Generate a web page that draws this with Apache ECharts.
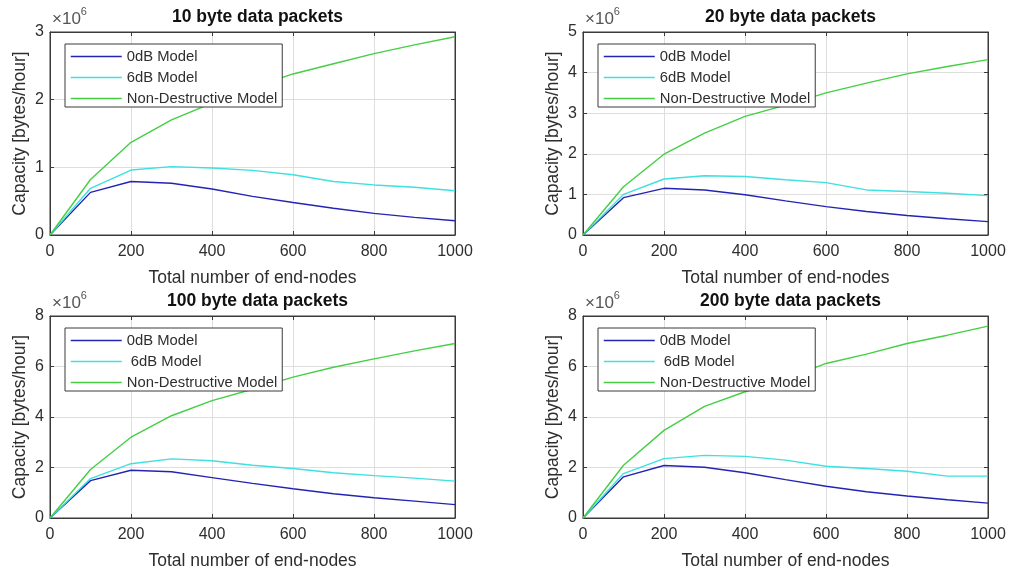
<!DOCTYPE html>
<html>
<head>
<meta charset="utf-8">
<script src="https://cdn.jsdelivr.net/npm/echarts@6/dist/echarts.min.js"></script>
<style>
html,body{margin:0;padding:0;background:#fff;}
#chart{width:1009px;height:571px;}
</style>
</head>
<body>
<div id="chart"></div>
<script>
// ---- data (capacity in units of 10^6 bytes/hour) ----
const nodes = [0, 100, 200, 300, 400, 500, 600, 700, 800, 900, 1000];
const xTicks = [0, 200, 400, 600, 800, 1000];

const titles = ['10 byte data packets', '20 byte data packets', '100 byte data packets', '200 byte data packets'];
const seriesNamesTop = ['0dB Model', '6dB Model', 'Non-Destructive Model'];
const seriesNamesBottom = ['0dB Model', ' 6dB Model', 'Non-Destructive Model'];
const yMax = [3, 5, 8, 8];
const yStep = [1, 1, 2, 2];

const p10_0dB = [0, 0.63, 0.79, 0.765, 0.68, 0.57, 0.48, 0.395, 0.32, 0.26, 0.21];
const p10_6dB = [0, 0.69, 0.96, 1.01, 0.99, 0.955, 0.89, 0.79, 0.74, 0.705, 0.655];
const p10_ND  = [0, 0.82, 1.37, 1.70, 1.95, 2.18, 2.38, 2.53, 2.68, 2.81, 2.93];

const p20_0dB = [0, 0.92, 1.15, 1.11, 0.99, 0.84, 0.70, 0.58, 0.48, 0.40, 0.33];
const p20_6dB = [0, 1.00, 1.38, 1.46, 1.44, 1.36, 1.29, 1.11, 1.07, 1.03, 0.97];
const p20_ND  = [0, 1.19, 1.99, 2.51, 2.92, 3.20, 3.50, 3.74, 3.97, 4.15, 4.32];

const p100_0dB = [0, 1.48, 1.89, 1.83, 1.60, 1.37, 1.16, 0.96, 0.80, 0.67, 0.53];
const p100_6dB = [0, 1.56, 2.15, 2.34, 2.27, 2.09, 1.96, 1.79, 1.68, 1.58, 1.46];
const p100_ND  = [0, 1.92, 3.20, 4.05, 4.65, 5.10, 5.58, 5.97, 6.30, 6.62, 6.91];

const p200_0dB = [0, 1.63, 2.08, 2.01, 1.79, 1.52, 1.26, 1.04, 0.87, 0.72, 0.59];
const p200_6dB = [0, 1.76, 2.35, 2.48, 2.44, 2.29, 2.05, 1.96, 1.85, 1.66, 1.66];
const p200_ND  = [0, 2.09, 3.47, 4.42, 5.00, 5.50, 6.12, 6.49, 6.91, 7.24, 7.60];

const panels = [
  [p10_0dB, p10_6dB, p10_ND],
  [p20_0dB, p20_6dB, p20_ND],
  [p100_0dB, p100_6dB, p100_ND],
  [p200_0dB, p200_6dB, p200_ND]
];

// ---- styling / layout ----
const FONT = '"Liberation Sans", Arial, Helvetica, sans-serif';
const colors = ['#2424b4', '#3ee0e0', '#44cf44'];
const AX = '#3a3a3a';
const TXT = '#2e2e2e';
const gridPos = [
  {left: 50, top: 32, width: 405, height: 203},
  {left: 583, top: 32, width: 405, height: 203},
  {left: 50, top: 316, width: 405, height: 203},
  {left: 583, top: 316, width: 405, height: 203}
];

const grid = [], xAxis = [], yAxis = [], series = [], title = [], legend = [], graphic = [];

gridPos.forEach((g, i) => {
  grid.push(Object.assign({show: true, borderColor: AX, borderWidth: 1, backgroundColor: '#fff'}, g));
  xAxis.push({
    type: 'value', gridIndex: i, min: 0, max: 1000, interval: 200, position: 'bottom',
    name: 'Total number of end-nodes', nameLocation: 'middle', nameGap: 34,
    nameTextStyle: {fontSize: 17.5, color: TXT, fontFamily: FONT},
    axisLine: {show: true, onZero: false, lineStyle: {color: AX, width: 1}},
    axisTick: {show: true, inside: true, length: 4, lineStyle: {color: AX}},
    axisLabel: {fontSize: 16, color: TXT, fontFamily: FONT, margin: 9, formatter: v => String(v)},
    splitLine: {show: true, lineStyle: {color: '#dedede', width: 1}}
  });
  yAxis.push({
    type: 'value', gridIndex: i, min: 0, max: yMax[i], interval: yStep[i], position: 'left',
    name: 'Capacity [bytes/hour]', nameLocation: 'middle', nameGap: 21,
    nameTextStyle: {fontSize: 17.5, color: TXT, fontFamily: FONT},
    axisLine: {show: true, onZero: false, lineStyle: {color: AX, width: 1}},
    axisTick: {show: true, inside: true, length: 4, lineStyle: {color: AX}},
    axisLabel: {fontSize: 16, color: TXT, fontFamily: FONT, margin: 6, formatter: v => String(v)},
    splitLine: {show: true, lineStyle: {color: '#dedede', width: 1}}
  });
});
gridPos.forEach((g, i) => {
  xAxis.push({
    type: 'value', gridIndex: i, min: 0, max: 1000, interval: 200, position: 'top',
    axisLine: {show: true, onZero: false, lineStyle: {color: AX}},
    axisTick: {show: true, inside: true, length: 4, lineStyle: {color: AX}},
    axisLabel: {show: false}, splitLine: {show: false}
  });
  yAxis.push({
    type: 'value', gridIndex: i, min: 0, max: yMax[i], interval: yStep[i], position: 'right',
    axisLine: {show: true, onZero: false, lineStyle: {color: AX}},
    axisTick: {show: true, inside: true, length: 4, lineStyle: {color: AX}},
    axisLabel: {show: false}, splitLine: {show: false}
  });
});

gridPos.forEach((g, i) => {
  const names = i < 2 ? seriesNamesTop : seriesNamesBottom;
  panels[i].forEach((arr, k) => {
    series.push({
      type: 'line', name: names[k], xAxisIndex: i, yAxisIndex: i,
      data: nodes.map((x, j) => [x, arr[j]]),
      symbol: 'none', smooth: false, animation: false,
      lineStyle: {color: colors[k], width: 1.4},
      itemStyle: {color: colors[k]},
      z: 2
    });
  });
  title.push({
    text: titles[i], left: g.left + g.width / 2, top: g.top - 29, textAlign: 'center',
    textStyle: {fontSize: 17.5, fontWeight: 'bold', color: '#111', fontFamily: FONT}
  });
  legend.push({
    show: true, orient: 'vertical', left: g.left + 15, top: g.top + 12,
    data: names.map(n => ({name: n})),
    backgroundColor: '#fff', borderColor: AX, borderWidth: 1,
    padding: [5, 5, 1, 5], itemWidth: 51, itemHeight: 14, itemGap: 6,
    selectedMode: false,
    itemStyle: {opacity: 0},
    lineStyle: {width: 1.5},
    textStyle: {fontSize: 14.8, color: TXT, fontFamily: FONT},
    z: 10
  });
  graphic.push({
    type: 'text', left: g.left + 2, top: g.top - 26, z: 20,
    style: {
      text: '{a|\u00d710}{b|6}',
      rich: {
        a: {fontSize: 17, fill: '#555', fontFamily: FONT, verticalAlign: 'bottom', lineHeight: 22},
        b: {fontSize: 11, fill: '#555', fontFamily: FONT, verticalAlign: 'top', lineHeight: 22, padding: [0, 0, 9, 0]}
      }
    }
  });
});

const chart = echarts.init(document.getElementById('chart'), null, {renderer: 'canvas'});
chart.setOption({
  backgroundColor: '#fff',
  animation: false,
  title, legend, grid, xAxis, yAxis, series, graphic
});
</script>
</body>
</html>
